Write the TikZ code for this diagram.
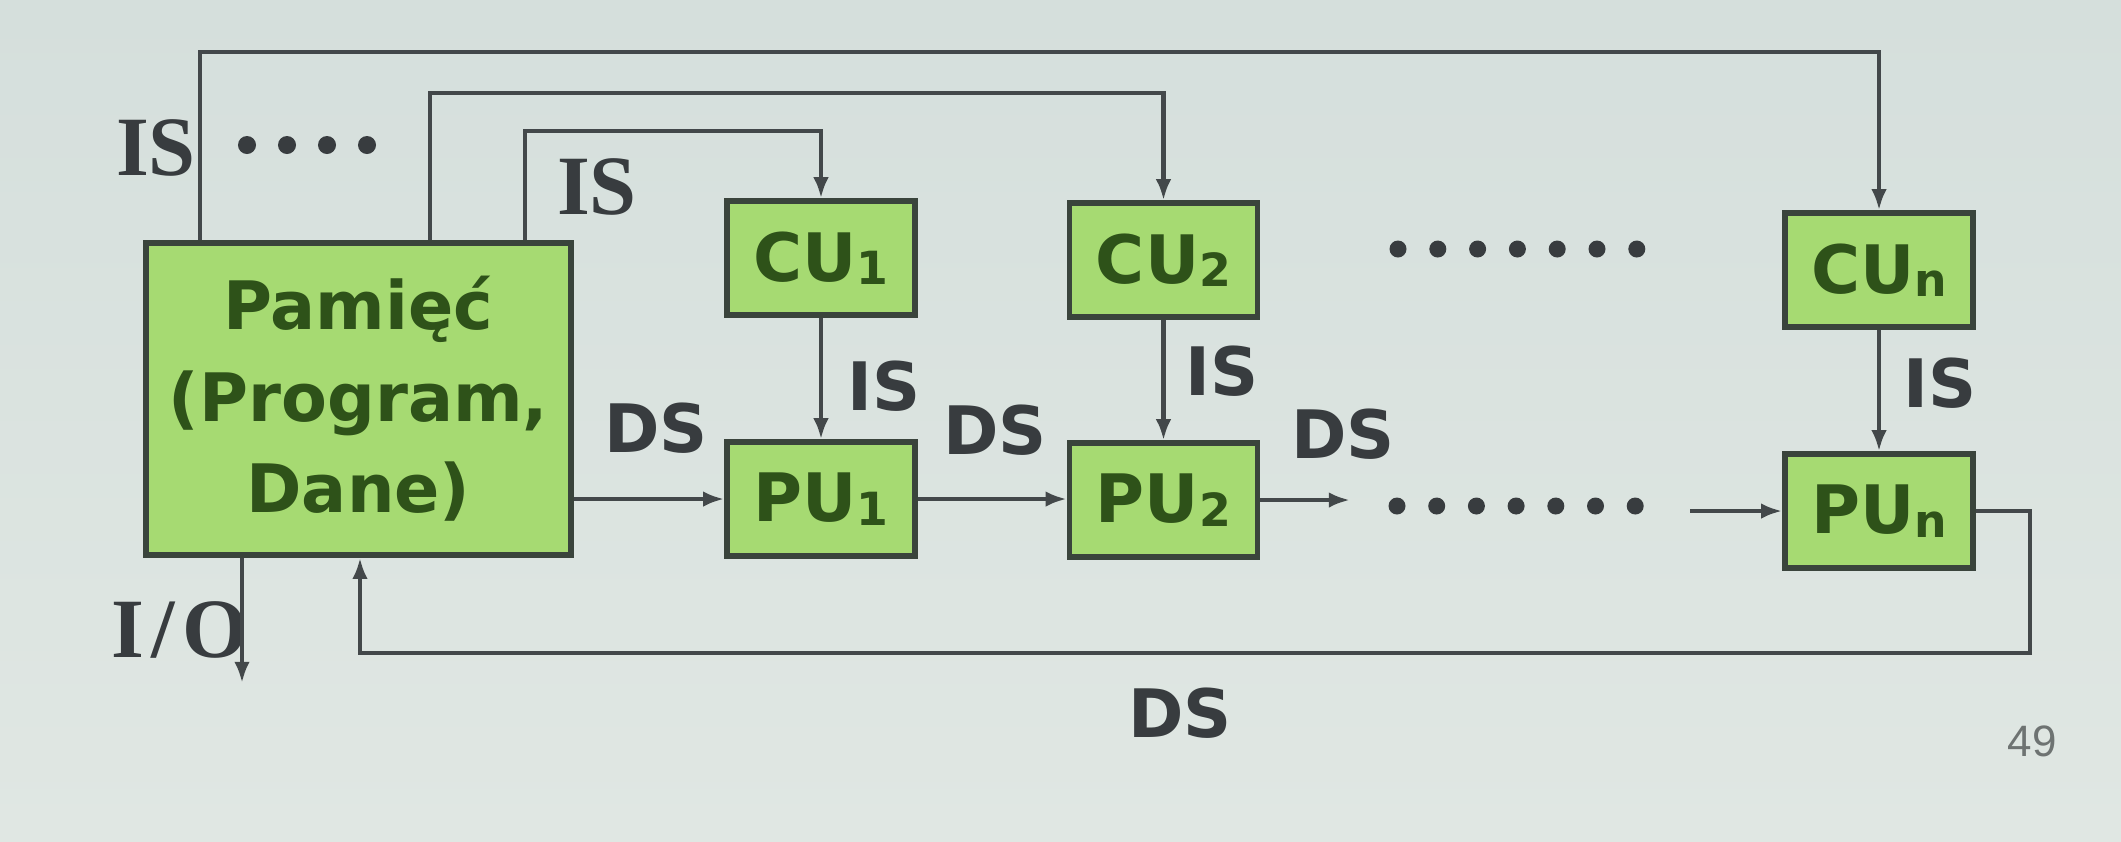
\documentclass[tikz,border=0pt]{standalone}
\usepackage{fontspec}
\newfontfamily\dvs{DejaVu Sans}
\newfontfamily\lser{Liberation Serif}
\newfontfamily\lsans{Liberation Sans}
\usetikzlibrary{arrows.meta}
\definecolor{bgtop}{HTML}{D5DFDC}
\definecolor{bgbot}{HTML}{E0E7E3}
\definecolor{boxfill}{HTML}{A6DA72}
\definecolor{boxtext}{HTML}{2E5219}
\definecolor{boxline}{HTML}{3A443C}
\definecolor{wirecol}{HTML}{43484A}
\definecolor{lbl}{HTML}{383C3F}
\definecolor{pgnum}{HTML}{6E7372}
\newcommand{\subx}[1]{\raisebox{-1pt}{\fontsize{13}{13}\selectfont #1}}
\tikzset{
  unitbox/.style={draw=boxline, line width=1.5pt, fill=boxfill, text=boxtext,
    font=\dvs\bfseries\fontsize{19}{26}\selectfont, inner sep=0pt,
    minimum width=1.88cm, minimum height=1.14cm},
  membox/.style={unitbox, minimum width=4.25cm, minimum height=3.12cm, align=center},
  wire/.style={draw=wirecol, line width=1.25pt},
  arr/.style={wire, -{Latex[length=6pt,width=4.4pt]}},
  sanslbl/.style={text=lbl, font=\dvs\bfseries\fontsize{19}{19}\selectfont, inner sep=0pt},
  seriflbl/.style={text=lbl, font=\lser\bfseries\fontsize{24}{24}\selectfont, inner sep=0pt},
  dotfill/.style={fill=lbl}
}
\begin{document}
\begin{tikzpicture}[x=0.01cm,y=-0.01cm]
\useasboundingbox (0,0) rectangle (2121,841);
\shade[top color=bgtop, bottom color=bgbot] (0,0) rectangle (2121,841);

% boxes
\node[membox] (mem) at (358.5,399) {Pamięć\\(Program,\\Dane)};
\node[unitbox] (cu1) at (821,258) {CU\subx{1}};
\node[unitbox] (pu1) at (821,499) {PU\subx{1}};
\node[unitbox] (cu2) at (1163.5,260) {CU\subx{2}};
\node[unitbox] (pu2) at (1163.5,500) {PU\subx{2}};
\node[unitbox] (cun) at (1879,270) {CU\subx{n}};
\node[unitbox] (pun) at (1879,511) {PU\subx{n}};

% free ends
\coordinate (t1) at (200,52);
\coordinate (t2) at (430,93);
\coordinate (t3) at (525,131);
\coordinate (c1) at (1350,504);
\coordinate (c2) at (1690,511);
\coordinate (r1) at (2030,653);
\coordinate (r2) at (360,653);
\coordinate (io) at (242,683);

% labels
\node[seriflbl] (lis1) at (156,148) {IS};
\node[seriflbl] (lis2) at (597,187) {IS};
\node[seriflbl] (lio) at (180,630) {I\kern2pt/\kern2pt O};
\node[sanslbl] (lis3) at (884,386) {IS};
\node[sanslbl] (lds1) at (656,428) {DS};
\node[sanslbl] (lds2) at (995,430) {DS};
\node[sanslbl] (lis4) at (1222,371) {IS};
\node[sanslbl] (lds3) at (1343,434) {DS};
\node[sanslbl] (lis5) at (1940,383) {IS};
\node[sanslbl] (lds4) at (1180,713) {DS};
\node[text=pgnum, font=\lsans\fontsize{12.5}{12.5}\selectfont, inner sep=0pt] (pg) at (2032,741) {49};

% connectors
\draw[arr] (mem.north -| t1) -- (t1) -| (cun.north);
\draw[arr] (mem.north -| t2) -- (t2) -| (cu2.north);
\draw[arr] (mem.north -| t3) -- (t3) -| (cu1.north);
\draw[arr] (cu1) -- (pu1);
\draw[arr] (cu2) -- (pu2);
\draw[arr] (cun) -- (pun);
\draw[arr] (mem.east |- pu1.west) -- (pu1.west);
\draw[arr] (pu1.east) -- (pu1.east -| pu2.west);
\draw[arr] (pu2.east) -- (pu2.east -| c1);
\draw[arr] (c2) -- (c2 -| pun.west);
\draw[arr] (pun.east) -| (r1) -- (r2) -- (mem.south -| r2);
\draw[arr] (mem.south -| io) -- (io);

% ellipses
\foreach \i in {0,...,3} \fill[dotfill] (247+\i*40,145) circle[radius=0.09cm];
\foreach \i in {0,...,6} \fill[dotfill] (1398+\i*39.8,249) circle[radius=0.085cm];
\foreach \i in {0,...,6} \fill[dotfill] (1397+\i*39.7,506) circle[radius=0.085cm];
\end{tikzpicture}
\end{document}
